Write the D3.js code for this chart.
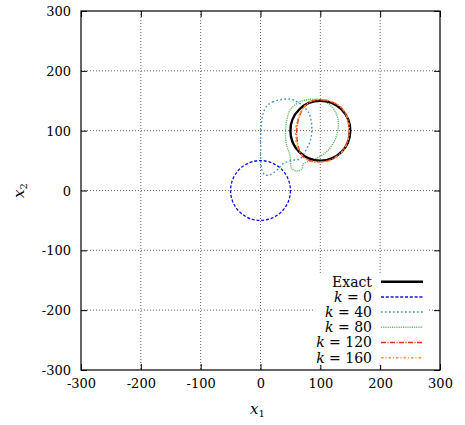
<!DOCTYPE html>
<html><head><meta charset="utf-8">
<script src="https://cdn.jsdelivr.net/npm/d3@7"></script>
<style>body{margin:0;background:#fff}svg{display:block}svg text{font-family:"DejaVu Serif","Liberation Serif",serif !important}</style>
</head><body><svg id="c" width="465" height="425"></svg>
<script>
const ticks = [-300,-200,-100,0,100,200,300];
// circles: [cx, cy, r]
const exactCircle = [100,100,50];
const k0Circle = [0,0,50];
const k40 = [[38.1,152.4],[21.4,148.5],[10.4,141],[4.2,128],[1.2,110],[0.3,86.6],[0.3,67.2],[0.5,50.5],[2.5,33.8],[8,25.9],[15.9,26.4],[27.1,33.8],[38.1,44.8],[52.1,50.1],[66,53.1],[76,67.7],[83.6,84.4],[85.6,109],[79.9,131.2],[66,145.1],[52.1,152.4]];
const k80 = [[66,148.4],[82.7,152.4],[99.4,151.3],[116.2,142.9],[127.4,126.2],[130,106.6],[124.5,84.4],[110.6,64.9],[93.9,53.8],[78.2,48.1],[71.5,44.3],[68.9,35.4],[60.5,32.6],[52.1,37.1],[50.5,48.1],[49,60],[43.5,76],[41.8,95.6],[43.8,117],[50.5,136]];
const k120 = [[88.3,150.1],[105,151.3],[121.7,146.7],[135.7,137.4],[144.1,123.3],[147.9,101.1],[144.1,78.9],[132.9,62.2],[116.2,51],[96.6,48.1],[79.9,51],[68.9,59.3],[63.2,73.2],[60.5,95.6],[63.2,117.8],[71.5,137.4],[79.9,145.7]];
const k160 = [[87,150.5],[104,152],[121,147.5],[135,138.5],[144.5,124],[148.5,101.5],[145,79.5],[134,62],[117,50.5],[97.5,47.5],[80.5,50.5],[69.5,58.5],[62,72.5],[58.5,95],[62,118],[70.5,137],[79,146]];
const legendLabels = ["Exact","k = 0","k = 40","k = 80","k = 120","k = 160"];

const svg = d3.select("#c");
const L=81, R=440, T=11, B=370;
const x = d3.scaleLinear().domain([-300,300]).range([L,R]);
const y = d3.scaleLinear().domain([-300,300]).range([B,T]);

// grid
const g = svg.append("g");
ticks.slice(1,-1).forEach(t=>{
  g.append("line").attr("x1",x(t)).attr("x2",x(t)).attr("y1",T).attr("y2",B).attr("stroke","#000").attr("stroke-width",0.6).attr("stroke-dasharray","1,2");
  g.append("line").attr("y1",y(t)).attr("y2",y(t)).attr("x1",L).attr("x2",R).attr("stroke","#000").attr("stroke-width",0.6).attr("stroke-dasharray","1,2");
});

// axes
const fmt = d=>d<0?"-"+Math.abs(d):String(d);
const ax = svg.append("g").attr("transform",`translate(0,${B})`).call(d3.axisBottom(x).tickValues(ticks).tickSize(-6).tickPadding(9).tickFormat(fmt));
const ay = svg.append("g").attr("transform",`translate(${L},0)`).call(d3.axisLeft(y).tickValues(ticks).tickSize(-6).tickPadding(10).tickFormat(fmt));
const at = svg.append("g").attr("transform",`translate(0,${T})`).call(d3.axisTop(x).tickValues(ticks).tickSize(-6).tickFormat(""));
const ar = svg.append("g").attr("transform",`translate(${R},0)`).call(d3.axisRight(y).tickValues(ticks).tickSize(-6).tickFormat(""));
[ax,ay,at,ar].forEach(a=>{a.attr("font-family",null);a.select(".domain").remove();a.selectAll("text").attr("font-size",13).attr("fill","#000");a.selectAll("line").attr("stroke","#000");});
ay.selectAll("text").attr("dy","0.35em");

// curves
const line = d3.line().x(d=>x(d[0])).y(d=>y(d[1])).curve(d3.curveCatmullRomClosed.alpha(0.5));
const styles = {
  exact:{c:"#000",w:2.4,d:null},
  k0:{c:"#1010e8",w:1.3,d:"3,1.8"},
  k40:{c:"#3a8ccc",w:1.4,d:"1.6,2.4"},
  k80:{c:"#66bb66",w:1.4,d:"1.2,1"},
  k120:{c:"#e0301e",w:1.4,d:"5,1.5,1,1.5"},
  k160:{c:"#ff9620",w:1.4,d:"2.5,2,1,2"}
};
const pg = svg.append("g");
function circ(cv,s){pg.append("circle").attr("cx",x(cv[0])).attr("cy",y(cv[1])).attr("r",x(cv[2])-x(0)).attr("fill","none").attr("stroke",s.c).attr("stroke-width",s.w).attr("stroke-dasharray",s.d);}
function path(data,s){pg.append("path").attr("d",line(data)).attr("fill","none").attr("stroke",s.c).attr("stroke-width",s.w).attr("stroke-dasharray",s.d);}
circ(k0Circle,styles.k0);
path(k40,styles.k40);
path(k80,styles.k80);
circ(exactCircle,styles.exact);
path(k120,styles.k120);
path(k160,styles.k160);

// legend
const keys=["exact","k0","k40","k80","k120","k160"];
const lg = svg.append("g");
lg.append("rect").attr("x",313).attr("y",274).attr("width",114).attr("height",91).attr("fill","#fff");
keys.forEach((k,i)=>{
  const yy = 281.7 + i*15.2;
  const s=styles[k];
  lg.append("line").attr("x1",381).attr("x2",423).attr("y1",yy).attr("y2",yy).attr("stroke",s.c).attr("stroke-width",i===0?2.4:1.5).attr("stroke-dasharray",s.d);
  const t = lg.append("text").attr("x",372).attr("y",yy).attr("dy","0.35em").attr("text-anchor","end").attr("font-size",14);
  if(i===0){t.text(legendLabels[0]);}
  else{
    const parts = legendLabels[i].split(" = ");
    t.append("tspan").attr("font-style","italic").text(parts[0]);
    t.append("tspan").text(" = "+parts[1]);
  }
});
svg.append("rect").attr("x",L).attr("y",T).attr("width",R-L).attr("height",B-T).attr("fill","none").attr("stroke","#000").attr("stroke-width",1.2);

// axis titles
const xt = svg.append("text").attr("x",(L+R)/2-3).attr("y",414).attr("text-anchor","middle").attr("font-size",15);
xt.append("tspan").attr("font-style","italic").text("x");
xt.append("tspan").attr("font-size",10).attr("dy",3).text("1");
const yt = svg.append("text").attr("transform",`translate(24,${(T+B)/2}) rotate(-90)`).attr("text-anchor","middle").attr("font-size",15);
yt.append("tspan").attr("font-style","italic").text("x");
yt.append("tspan").attr("font-size",10).attr("dy",3).text("2");
</script></body></html>
